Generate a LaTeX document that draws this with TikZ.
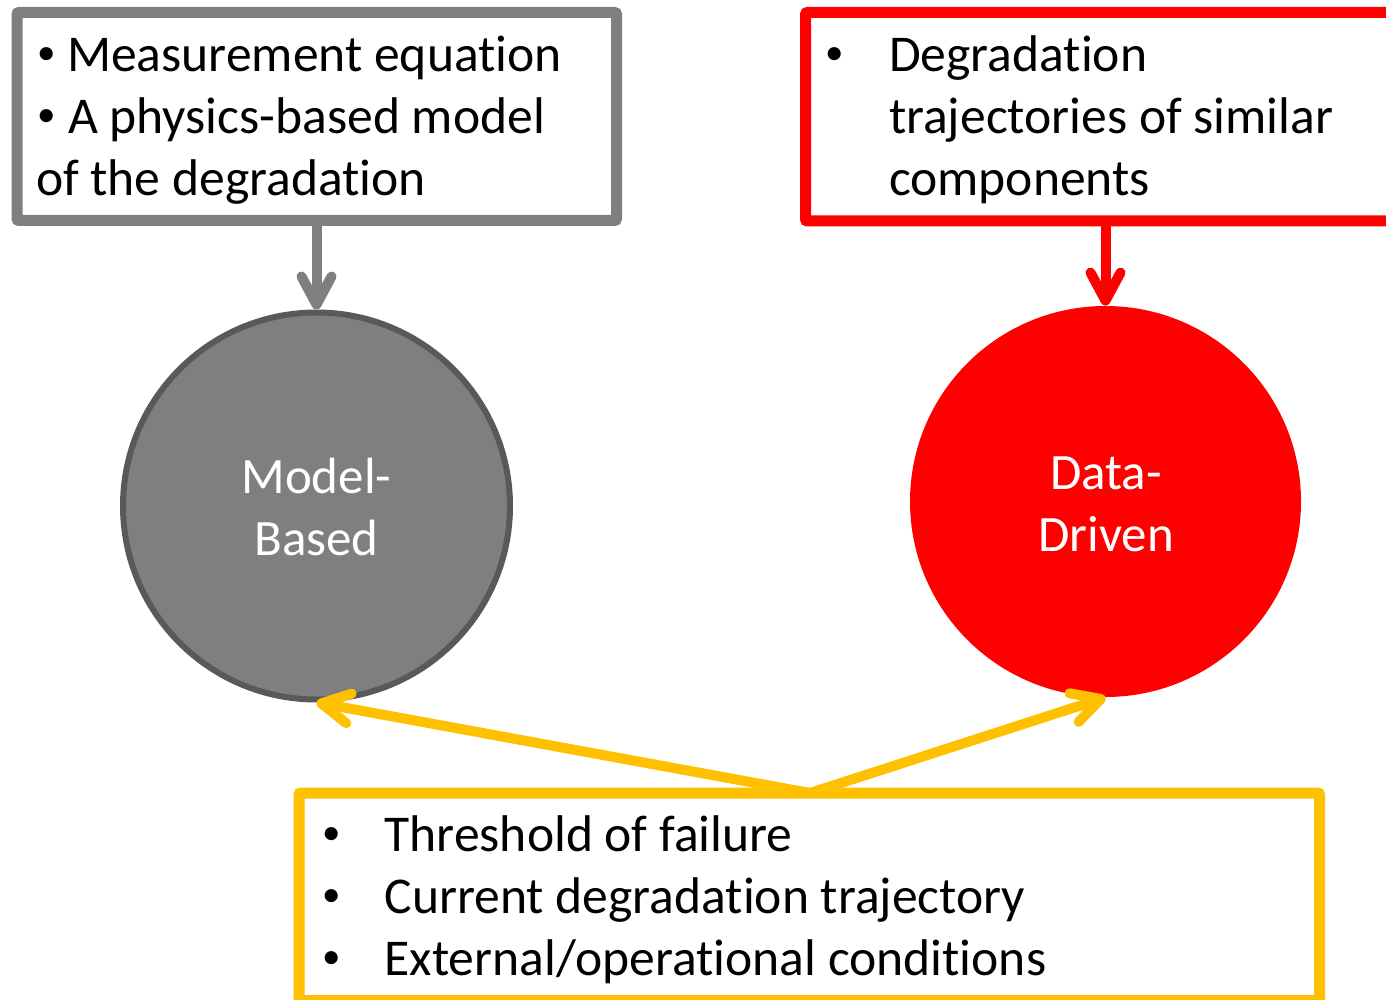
\documentclass[tikz,border=0pt]{standalone}
\usepackage{fontspec}
\setmainfont{Carlito}[Ligatures=NoCommon]
\usetikzlibrary{arrows.meta}
\definecolor{boxgray}{HTML}{7F7F7F}
\definecolor{ringgray}{HTML}{595959}
\definecolor{pred}{HTML}{FF0000}
\definecolor{amber}{HTML}{FFC000}

\begin{document}
\begin{tikzpicture}[x=0.5pt,y=-0.5pt,
  frame/.style={draw, line width=5.5pt, rectangle, inner sep=0pt, outer sep=0pt, rounded corners=1pt},
  disc/.style={circle, inner sep=0pt},
  txt/.style={anchor=base west, inner sep=0pt, outer sep=0pt, font=\fontsize{25.8pt}{31pt}\selectfont},
  bul/.style={anchor=base west, inner sep=0pt, outer sep=0pt, font=\fontsize{18.5pt}{31pt}\selectfont},
  ctxt/.style={anchor=base, inner sep=0pt, outer sep=0pt, text=white, font=\fontsize{25.5pt}{31pt}\selectfont},
  conn/.style={line width=5pt, line cap=round, line join=round,
    -{Straight Barb[length=14pt,width=15pt,round]}}
]
\useasboundingbox (0,0) rectangle (1386,1000);
\clip (0,0) rectangle (1386,1000);

% input boxes
\node[frame, draw=boxgray, minimum width=299.75pt, minimum height=104pt] (gbox) at (316.75,116.5) {};
\node[frame, draw=pred, minimum width=294.75pt, minimum height=104.25pt] (rbox) at (1100.25,116.75) {};
\node[frame, draw=amber, minimum width=510.25pt, minimum height=103.75pt] (ybox) at (809.25,896.75) {};

% the two approaches
\node[disc, fill=boxgray, draw=ringgray, line width=3pt, minimum size=193.5pt] (mb) at (316.5,506) {};
\node[disc, fill=pred, minimum size=195.5pt] (dd) at (1105.5,501.5) {};

\node[ctxt] (mb1) at (316.5,493) {Model-};
\node[ctxt] (mb2) at (316.5,555) {Based};
\node[ctxt] (dd1) at (1106,489) {Data-};
\node[ctxt] (dd2) at (1106,551) {Driven};

% texts of the model-based box
\node[bul] (g1b) at (37,65) {•};
\node[txt] (g1) at (67,72) {Measurement equation};
\node[bul] (g2b) at (37,127) {•};
\node[txt] (g2) at (68,134) {A physics-based model};
\node[txt] (g3) at (36,196) {of the degradation};

% texts of the data-driven box
\node[bul] (r1b) at (825,65) {•};
\node[txt] (r1) at (889,72) {Degradation};
\node[txt] (r2) at (889,134) {trajectories of similar};
\node[txt] (r3) at (889,196) {components};

% texts of the shared box
\node[bul] (y1b) at (322,844) {•};
\node[txt] (y1) at (384.5,851) {Threshold of failure};
\node[bul] (y2b) at (322,906) {•};
\node[txt] (y2) at (384.5,913) {Current degradation trajectory};
\node[bul] (y3b) at (322,968) {•};
\node[txt] (y3) at (384.5,975) {External/operational conditions};

% connectors
\coordinate (fork) at (810,793);
\draw[conn, boxgray] (gbox.south -| mb.north) -- (mb.north);
\draw[conn, pred] (rbox.south -| dd.north) -- (dd.north);
\draw[conn, amber] (fork) -- (mb.south);
\draw[conn, amber] (fork) -- (dd.south);
\end{tikzpicture}
\end{document}
